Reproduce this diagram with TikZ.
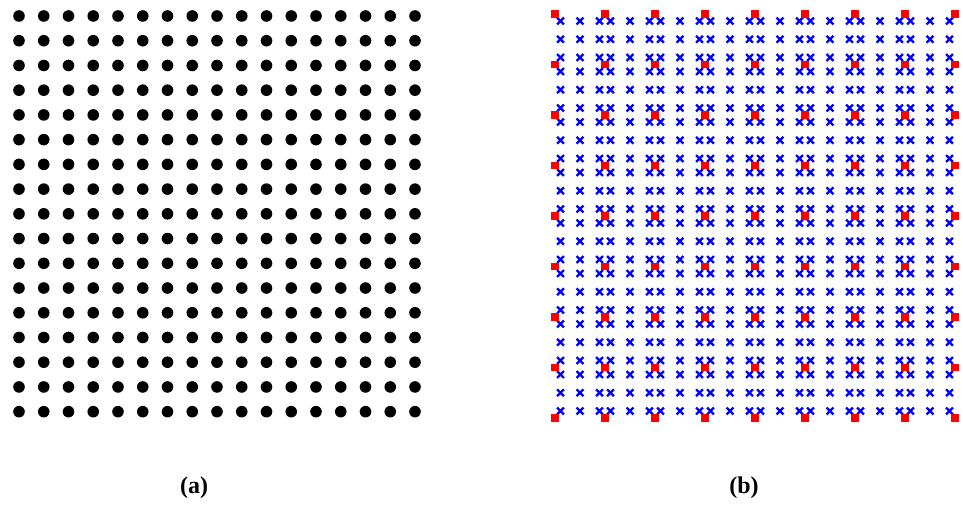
\documentclass[tikz,border=0pt]{standalone}
\usepackage{fontspec}
\setmainfont{Liberation Serif}
\definecolor{mblue}{RGB}{0,0,255}
\definecolor{mred}{RGB}{255,0,0}
\begin{document}
\begin{tikzpicture}[x=1pt,y=-1pt,
  dotmark/.style={fill=black},
  crossmark/.style={draw=mblue,line width=2.4pt},
  redsq/.style={fill=mred},
  caption/.style={font=\bfseries\fontsize{24}{27}\selectfont,inner sep=0pt}]
\useasboundingbox (0,0) rectangle (963,505);
% panel (a)
\foreach \i in {0,...,16}{
  \foreach \j in {0,...,16}{
    \fill[dotmark] (19+24.75*\i,16+24.73*\j) circle (5.8);
  }
}
% panel (b) crosses
\foreach \k in {0,...,7}{
  \foreach \a in {5.5,25,44.5}{
    \foreach \m in {0,...,7}{
      \foreach \b in {7,25.25,43.5}{
        \draw[crossmark,shift={(555+50*\k+\a,14+50.5*\m+\b)}] (-3.4,-3.4) -- (3.4,3.4) (-3.4,3.4) -- (3.4,-3.4);
      }
    }
  }
}
% panel (b) red squares
\foreach \k in {0,...,8}{
  \foreach \m in {0,...,8}{
    \fill[redsq] (555+50*\k-3.8,14+50.5*\m-3.8) rectangle ++(7.6,7.6);
  }
}
\node[caption] (capa) at (194,488) {(a)};
\node[caption] (capb) at (744,488) {(b)};
\end{tikzpicture}
\end{document}
